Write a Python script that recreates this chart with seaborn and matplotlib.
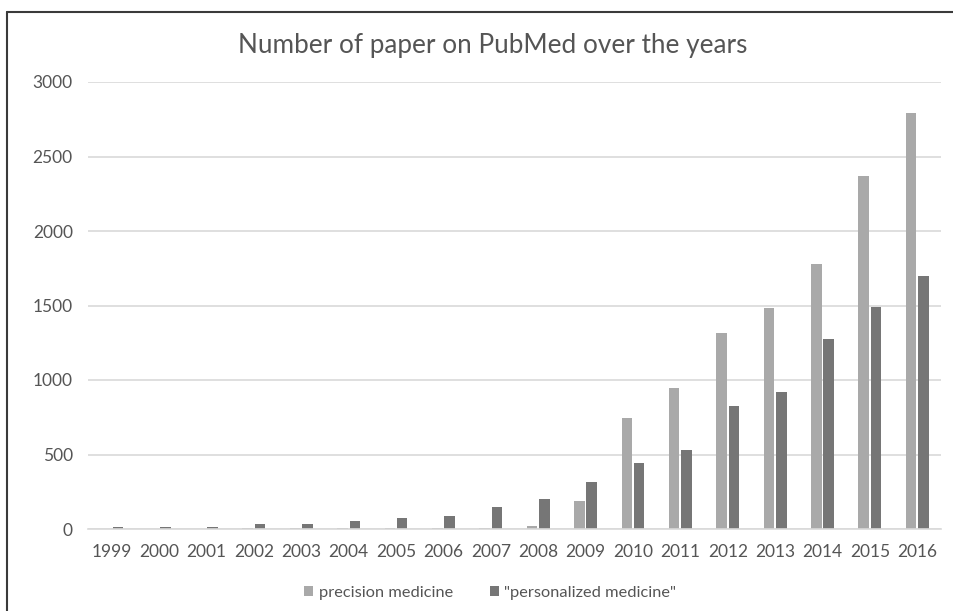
import matplotlib
matplotlib.use("Agg")
import matplotlib.pyplot as plt
from matplotlib.lines import Line2D
from matplotlib.patches import Patch
import numpy as np
import pandas as pd
import seaborn as sns

years = [str(y) for y in range(1999, 2017)]
precision = [0, 0, 0, 5, 5, 5, 6, 7, 10, 20, 188, 745, 948, 1315, 1480, 1780, 2370, 2790]
personalized = [12, 12, 12, 36, 36, 54, 74, 85, 148, 203, 315, 443, 530, 825, 921, 1275, 1490, 1700]
series_names = ["precision medicine", '"personalized medicine"']
yticks = [0, 500, 1000, 1500, 2000, 2500, 3000]

light = "#a9a9a9"
dark = "#767676"
text_col = "#555555"
grid_col = "#d9d9d9"

df = pd.DataFrame({
    "year": years * 2,
    "count": precision + personalized,
    "series": [series_names[0]] * len(years) + [series_names[1]] * len(years),
})

sns.set_theme(style="white")
plt.rcParams["font.family"] = ["Lato", "DejaVu Sans"]

fig = plt.figure(figsize=(9.54, 6.11), dpi=100)
ax = fig.add_axes([88 / 954, 82 / 611, (941 - 88) / 954, (529 - 82) / 611])

sns.barplot(data=df, x="year", y="count", hue="series", order=years,
            hue_order=series_names, palette=[light, dark], width=0.52,
            saturation=1, legend=False, ax=ax)

# leave a small gap between the two bars of each year
for p in ax.patches:
    w = p.get_width()
    cx = p.get_x() + w / 2
    nw = w * 0.86
    p.set_width(nw)
    p.set_x(cx - nw / 2)
    p.set_edgecolor("none")

ax.set_ylim(0, 3000)
ax.set_yticks(yticks)
ax.set_yticklabels([str(v) for v in yticks])
ax.set_xlim(-0.5, len(years) - 0.5)
ax.set_xlabel("")
ax.set_ylabel("")
ax.grid(axis="y", color=grid_col, linewidth=1.2)
ax.set_axisbelow(True)
for s in ["top", "right", "left"]:
    ax.spines[s].set_visible(False)
ax.spines["bottom"].set_color(grid_col)
ax.spines["bottom"].set_linewidth(1.2)
ax.tick_params(axis="both", length=0, pad=11, labelsize=12.5, labelcolor=text_col)

fig.text(0.516, (611 - 53) / 611, "Number of paper on PubMed over the years",
         ha="center", va="baseline", fontsize=18.8, color=text_col)

handles = [Patch(facecolor=light, edgecolor="none"), Patch(facecolor=dark, edgecolor="none")]
fig.legend(handles, series_names, loc="center", bbox_to_anchor=(0.514, (611 - 593) / 611),
           ncol=2, frameon=False, fontsize=11.8, labelcolor=text_col,
           handlelength=0.55, handleheight=0.55, handletextpad=0.35, columnspacing=2.2)

# outer frame (top and left edges)
fig.add_artist(Line2D([7.5 / 954, 1.0], [1 - 12 / 611, 1 - 12 / 611],
                      transform=fig.transFigure, color="#3a3a3a", linewidth=1.5))
fig.add_artist(Line2D([7.5 / 954, 7.5 / 954], [0.0, 1 - 12 / 611],
                      transform=fig.transFigure, color="#3a3a3a", linewidth=1.5))

fig.savefig("out.png", dpi=100)
